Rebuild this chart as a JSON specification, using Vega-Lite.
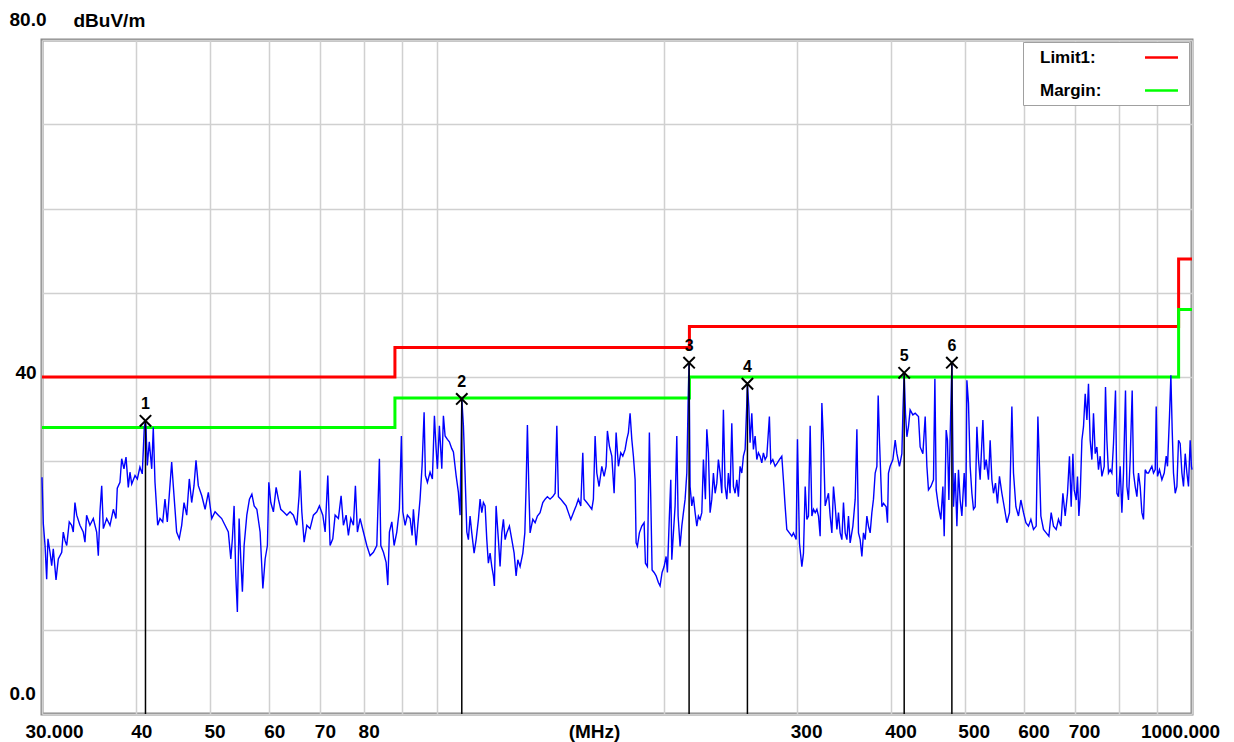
{
  "$schema": "https://vega.github.io/schema/vega-lite/v6.json",
  "width": 1150,
  "height": 674,
  "autosize": {"type": "none"},
  "padding": {"left": 42, "top": 40, "right": 42, "bottom": 28},
  "background": "white",
  "config": {"view": {"stroke": "#8a8a8a", "strokeWidth": 3}, "font": "Liberation Sans"},
  "datasets": {
    "limits": [
      {"series": "Limit1:", "f": 30, "v": 40}, {"series": "Limit1:", "f": 88, "v": 43.5}, {"series": "Limit1:", "f": 216, "v": 46}, {"series": "Limit1:", "f": 960, "v": 54}, {"series": "Limit1:", "f": 1000, "v": 54},
      {"series": "Margin:", "f": 30, "v": 34}, {"series": "Margin:", "f": 88, "v": 37.5}, {"series": "Margin:", "f": 216, "v": 40}, {"series": "Margin:", "f": 960, "v": 48}, {"series": "Margin:", "f": 1000, "v": 48}
    ],
    "markers": [
      {"id": "1", "f": 41.13, "v": 34.8}, {"id": "2", "f": 107.9, "v": 37.4}, {"id": "3", "f": 215.79, "v": 41.7},
      {"id": "4", "f": 257.79, "v": 39.2}, {"id": "5", "f": 415.78, "v": 40.5}, {"id": "6", "f": 480.86, "v": 41.7}
    ],
    "trace": [
{"f":30,"v":28.1},{"f":30.12,"v":22.6},{"f":30.28,"v":20},{"f":30.43,"v":16},{"f":30.55,"v":20.8},{"f":30.74,"v":19.2},{"f":30.9,"v":17.6},{"f":31.05,"v":19.6},{"f":31.31,"v":15.9},{"f":31.53,"v":18.4},{"f":31.86,"v":19.2},{"f":32.01,"v":21.6},{"f":32.18,"v":20.6},{"f":32.35,"v":20},{"f":32.6,"v":22.8},{"f":32.84,"v":22.4},{"f":33,"v":21.6},{"f":33.17,"v":25.1},{"f":33.35,"v":23.6},{"f":33.68,"v":22.4},{"f":34.02,"v":21.6},{"f":34.2,"v":20.4},{"f":34.37,"v":23.6},{"f":34.72,"v":22.4},{"f":35.08,"v":23.2},{"f":35.44,"v":21.6},{"f":35.62,"v":18.8},{"f":35.8,"v":24},{"f":35.99,"v":27.1},{"f":36.17,"v":22},{"f":36.54,"v":23.2},{"f":36.91,"v":22.4},{"f":37.29,"v":24.3},{"f":37.59,"v":23.2},{"f":37.74,"v":26.8},{"f":38.05,"v":27.5},{"f":38.25,"v":30.3},{"f":38.52,"v":29.1},{"f":38.76,"v":30.5},{"f":39.03,"v":26.9},{"f":39.23,"v":28.7},{"f":39.44,"v":27.3},{"f":39.84,"v":28.3},{"f":40.12,"v":27.9},{"f":40.44,"v":29.3},{"f":40.73,"v":28.5},{"f":40.98,"v":34},{"f":41.13,"v":34.8},{"f":41.2,"v":33.8},{"f":41.36,"v":29.5},{"f":41.61,"v":32.3},{"f":41.92,"v":29.1},{"f":42.12,"v":34},{"f":42.34,"v":27.5},{"f":42.69,"v":22.4},{"f":42.99,"v":23.2},{"f":43.35,"v":22.8},{"f":43.65,"v":25.5},{"f":43.96,"v":22.8},{"f":44.55,"v":29.9},{"f":44.77,"v":27.1},{"f":45.23,"v":21.6},{"f":45.59,"v":20.8},{"f":45.93,"v":22.4},{"f":46.26,"v":25.1},{"f":46.64,"v":23.6},{"f":47.01,"v":27.9},{"f":47.35,"v":25.1},{"f":47.69,"v":27.1},{"f":47.98,"v":30.1},{"f":48.32,"v":27.1},{"f":48.83,"v":25.9},{"f":49.33,"v":24.3},{"f":49.82,"v":26.3},{"f":50.34,"v":23.2},{"f":50.85,"v":24},{"f":51.36,"v":23.6},{"f":51.89,"v":23.2},{"f":52.42,"v":22.4},{"f":52.95,"v":21.6},{"f":53.35,"v":18.4},{"f":53.61,"v":20.8},{"f":53.89,"v":24.7},{"f":54.17,"v":16.4},{"f":54.43,"v":12.1},{"f":54.72,"v":23.2},{"f":55,"v":18.4},{"f":55.27,"v":14.5},{"f":55.56,"v":20},{"f":56.02,"v":23.6},{"f":56.47,"v":25.5},{"f":56.89,"v":26.1},{"f":57.29,"v":24.7},{"f":57.76,"v":24.3},{"f":58.34,"v":21.6},{"f":58.83,"v":14.9},{"f":59.24,"v":18.4},{"f":59.65,"v":20},{"f":59.91,"v":27.5},{"f":60.27,"v":25.1},{"f":60.75,"v":24},{"f":61.26,"v":26.9},{"f":61.68,"v":25.5},{"f":62.13,"v":24.3},{"f":62.63,"v":24},{"f":63.29,"v":23.6},{"f":63.92,"v":24},{"f":64.57,"v":23.6},{"f":65.25,"v":22.4},{"f":65.7,"v":25.9},{"f":65.9,"v":28.9},{"f":66.25,"v":24},{"f":66.72,"v":20.4},{"f":67.27,"v":22.4},{"f":67.94,"v":22},{"f":68.63,"v":23.6},{"f":69.35,"v":24},{"f":69.9,"v":24.7},{"f":70.63,"v":23.6},{"f":71.13,"v":21.6},{"f":71.71,"v":28.3},{"f":72.21,"v":20},{"f":72.81,"v":20.8},{"f":73.33,"v":23.6},{"f":74.07,"v":23.2},{"f":74.68,"v":25.9},{"f":75.21,"v":22.4},{"f":75.83,"v":23.6},{"f":76.36,"v":21.2},{"f":76.92,"v":23.2},{"f":77.54,"v":22.4},{"f":78.01,"v":27.1},{"f":78.49,"v":21.6},{"f":79.13,"v":23.2},{"f":79.94,"v":21.6},{"f":80.77,"v":20},{"f":81.58,"v":18.8},{"f":82.41,"v":19.2},{"f":83.27,"v":20},{"f":83.93,"v":30.3},{"f":84.29,"v":20},{"f":84.97,"v":19.2},{"f":85.67,"v":18},{"f":86.11,"v":15.3},{"f":86.53,"v":21.6},{"f":87.17,"v":22.8},{"f":87.78,"v":20},{"f":88.5,"v":21.6},{"f":89.2,"v":24.3},{"f":89.75,"v":33},{"f":90.14,"v":24},{"f":90.78,"v":22.4},{"f":91.41,"v":23.6},{"f":92.16,"v":23.2},{"f":92.73,"v":21.2},{"f":93.1,"v":24.3},{"f":93.87,"v":20},{"f":94.35,"v":22.4},{"f":95.01,"v":25.5},{"f":95.6,"v":29.5},{"f":96.19,"v":35.8},{"f":96.57,"v":28.3},{"f":97.16,"v":27.5},{"f":97.95,"v":28.7},{"f":98.65,"v":27.9},{"f":99.26,"v":35.4},{"f":99.77,"v":31.5},{"f":100.17,"v":29.1},{"f":100.78,"v":34.2},{"f":101.52,"v":29.1},{"f":102.02,"v":35.4},{"f":102.55,"v":33},{"f":103.27,"v":32.6},{"f":103.89,"v":32.3},{"f":104.66,"v":31.5},{"f":105.18,"v":31.1},{"f":106.05,"v":28.3},{"f":106.79,"v":26.3},{"f":107.34,"v":23.6},{"f":107.9,"v":37.4},{"f":108.44,"v":34.2},{"f":109,"v":28.3},{"f":109.57,"v":21.6},{"f":110.1,"v":20.7},{"f":110.66,"v":23.5},{"f":111.24,"v":21.5},{"f":112.03,"v":19.1},{"f":112.72,"v":20.7},{"f":113.51,"v":23.1},{"f":114.09,"v":25.5},{"f":114.69,"v":23.9},{"f":115.25,"v":25.1},{"f":115.85,"v":24.7},{"f":116.45,"v":20.7},{"f":117.01,"v":17.9},{"f":117.62,"v":19.1},{"f":118.24,"v":17.5},{"f":118.82,"v":16.4},{"f":119.18,"v":15.2},{"f":119.8,"v":24.7},{"f":120.64,"v":20.7},{"f":121.26,"v":17.5},{"f":121.9,"v":21.5},{"f":122.5,"v":23.1},{"f":123.14,"v":20.7},{"f":123.78,"v":21.5},{"f":124.76,"v":22.3},{"f":125.68,"v":20.7},{"f":126.57,"v":19.1},{"f":127.34,"v":16.4},{"f":128,"v":18.3},{"f":128.89,"v":17.5},{"f":129.97,"v":19.1},{"f":130.77,"v":21.5},{"f":131.28,"v":27},{"f":131.8,"v":34.3},{"f":132.36,"v":27},{"f":132.88,"v":21.5},{"f":133.99,"v":23.1},{"f":134.93,"v":22.7},{"f":135.88,"v":23.5},{"f":136.99,"v":23.9},{"f":138.13,"v":25.1},{"f":139.11,"v":25.5},{"f":140.08,"v":25.8},{"f":141.23,"v":25.5},{"f":142.41,"v":25.8},{"f":143.42,"v":26.2},{"f":144.17,"v":34.2},{"f":144.87,"v":25.8},{"f":145.93,"v":25.5},{"f":147.1,"v":25.1},{"f":148.31,"v":24.7},{"f":149.35,"v":23.9},{"f":150.44,"v":23.1},{"f":151.64,"v":23.9},{"f":152.89,"v":24.7},{"f":153.96,"v":25.5},{"f":155.1,"v":24.7},{"f":156.05,"v":31},{"f":156.68,"v":25.5},{"f":157.97,"v":25.1},{"f":159.22,"v":24.7},{"f":160.39,"v":24.3},{"f":161.18,"v":25.5},{"f":162.02,"v":33},{"f":162.86,"v":28.6},{"f":164,"v":27},{"f":165.36,"v":29.4},{"f":166.53,"v":28.2},{"f":167.55,"v":29.4},{"f":168.21,"v":33.6},{"f":169.23,"v":31.8},{"f":170.48,"v":30.6},{"f":171.69,"v":26.2},{"f":172.74,"v":33.4},{"f":173.95,"v":29.4},{"f":175.21,"v":31},{"f":176.3,"v":30.6},{"f":177.54,"v":31.4},{"f":178.46,"v":32.6},{"f":179.33,"v":33.4},{"f":180.25,"v":35.7},{"f":181.2,"v":32.6},{"f":182.09,"v":30.6},{"f":183.04,"v":27.8},{"f":183.6,"v":20.3},{"f":184.32,"v":19.9},{"f":185.44,"v":21.5},{"f":186.81,"v":22.3},{"f":188.13,"v":22.7},{"f":188.88,"v":17.9},{"f":190.03,"v":17.5},{"f":191.18,"v":33.4},{"f":192,"v":25.5},{"f":192.77,"v":17.1},{"f":193.96,"v":16.8},{"f":195.14,"v":16.4},{"f":196.5,"v":15.6},{"f":197.51,"v":15.2},{"f":198.73,"v":16.8},{"f":199.96,"v":17.5},{"f":201.18,"v":18.7},{"f":201.98,"v":16.8},{"f":203.2,"v":23.5},{"f":204.07,"v":27.8},{"f":204.7,"v":18.3},{"f":205.71,"v":21.5},{"f":206.78,"v":24.7},{"f":207.85,"v":33},{"f":208.68,"v":23.5},{"f":209.94,"v":19.9},{"f":211.05,"v":22.3},{"f":212.09,"v":23.9},{"f":213.19,"v":25.5},{"f":214.3,"v":28.6},{"f":215.14,"v":36.9},{"f":215.79,"v":41.7},{"f":216.44,"v":27},{"f":217.58,"v":24.7},{"f":218.65,"v":25.8},{"f":219.79,"v":23.9},{"f":220.93,"v":22.3},{"f":222,"v":23.5},{"f":223.14,"v":23.1},{"f":224.32,"v":23.9},{"f":225.42,"v":30.2},{"f":226.8,"v":25.5},{"f":227.77,"v":33.8},{"f":228.88,"v":31},{"f":230.05,"v":23.9},{"f":231.26,"v":25.5},{"f":232.4,"v":28.6},{"f":233.61,"v":26.2},{"f":234.82,"v":27.4},{"f":235.96,"v":30.2},{"f":237.17,"v":28.6},{"f":238.42,"v":26.2},{"f":239.59,"v":36.1},{"f":240.84,"v":27},{"f":242.09,"v":25.5},{"f":243.26,"v":28.6},{"f":244.51,"v":26.2},{"f":245.8,"v":34.5},{"f":247.02,"v":27},{"f":248.3,"v":26.2},{"f":249.59,"v":27.8},{"f":250.8,"v":25.8},{"f":252.08,"v":29.4},{"f":253.41,"v":28.6},{"f":254.66,"v":30.6},{"f":255.99,"v":31.4},{"f":257.32,"v":36.9},{"f":257.79,"v":39.2},{"f":258.88,"v":36.5},{"f":259.89,"v":32.2},{"f":261.26,"v":35.7},{"f":262.54,"v":31.4},{"f":263.91,"v":33},{"f":265.28,"v":30.2},{"f":266.56,"v":31},{"f":267.93,"v":30.6},{"f":269.34,"v":29.8},{"f":270.67,"v":31},{"f":272.08,"v":30.2},{"f":273.49,"v":30.6},{"f":275.65,"v":35.3},{"f":276.83,"v":29.8},{"f":278.54,"v":30.2},{"f":280.5,"v":29.4},{"f":282.47,"v":29.8},{"f":284.18,"v":30.2},{"f":286.28,"v":30.6},{"f":287.69,"v":27.8},{"f":289.19,"v":24.7},{"f":290.69,"v":21.9},{"f":292.98,"v":21.5},{"f":295.16,"v":21.1},{"f":296.63,"v":21.5},{"f":299.09,"v":20.7},{"f":300.28,"v":32.6},{"f":302.11,"v":20.3},{"f":304.34,"v":17.5},{"f":305.84,"v":19.1},{"f":307.44,"v":27},{"f":309.03,"v":23.1},{"f":310.53,"v":23.5},{"f":312.13,"v":34.2},{"f":313.77,"v":23.5},{"f":315.32,"v":24.3},{"f":316.97,"v":23.9},{"f":318.61,"v":24.3},{"f":320.16,"v":23.5},{"f":321.8,"v":21.1},{"f":323.49,"v":36.9},{"f":325.09,"v":32.2},{"f":326.78,"v":24.7},{"f":328.47,"v":25.5},{"f":330.07,"v":26.2},{"f":331.76,"v":23.5},{"f":333.51,"v":21.5},{"f":335.15,"v":27},{"f":336.9,"v":24.7},{"f":338.64,"v":21.9},{"f":340.29,"v":23.9},{"f":342.03,"v":21.5},{"f":343.83,"v":20.7},{"f":345.52,"v":25.1},{"f":347.33,"v":21.5},{"f":349.13,"v":20.7},{"f":350.83,"v":23.5},{"f":352.62,"v":20.3},{"f":355.57,"v":22.3},{"f":358.08,"v":25.5},{"f":359.94,"v":33.8},{"f":361.68,"v":21.5},{"f":363.54,"v":20.7},{"f":365.45,"v":18.7},{"f":367.25,"v":21.5},{"f":369.17,"v":20.7},{"f":371.08,"v":23.5},{"f":372.88,"v":22.3},{"f":374.79,"v":21.5},{"f":376.76,"v":23.9},{"f":378.62,"v":25.5},{"f":380.59,"v":28.6},{"f":382.57,"v":29.4},{"f":384.08,"v":37.8},{"f":385.59,"v":32.5},{"f":388.43,"v":24.6},{"f":390.34,"v":25},{"f":393.57,"v":24.6},{"f":395.13,"v":22.7},{"f":396.32,"v":28.6},{"f":398.36,"v":29.4},{"f":401.69,"v":30.2},{"f":404.53,"v":32.5},{"f":406.63,"v":30.9},{"f":409.84,"v":29.4},{"f":412.86,"v":30.9},{"f":414.13,"v":35.7},{"f":415.78,"v":40.5},{"f":417.43,"v":35.7},{"f":419.21,"v":32.9},{"f":421.25,"v":34.1},{"f":423.41,"v":36.1},{"f":426.95,"v":35.5},{"f":429.97,"v":35.7},{"f":434.3,"v":35.3},{"f":436.52,"v":31.7},{"f":440.17,"v":30.9},{"f":443.28,"v":35.3},{"f":445.58,"v":29.4},{"f":447.74,"v":26.6},{"f":451.01,"v":27},{"f":454.63,"v":27.8},{"f":456.58,"v":39.8},{"f":458.4,"v":26.6},{"f":461.6,"v":24.6},{"f":464.98,"v":23.1},{"f":467.85,"v":27},{"f":469.72,"v":21.1},{"f":472.59,"v":33.7},{"f":474.46,"v":32.5},{"f":476.47,"v":25.4},{"f":478.34,"v":32.9},{"f":480.86,"v":41.7},{"f":483.23,"v":24.6},{"f":485.75,"v":28.6},{"f":488.27,"v":22.3},{"f":490.64,"v":29},{"f":493.15,"v":25.4},{"f":495.75,"v":23.5},{"f":499.26,"v":28.6},{"f":501.86,"v":24.6},{"f":503.38,"v":39.6},{"f":505.83,"v":36.9},{"f":508.42,"v":29.4},{"f":511.1,"v":26.2},{"f":513.61,"v":24.3},{"f":516.29,"v":24.6},{"f":518.96,"v":34.1},{"f":521.48,"v":30.2},{"f":524.16,"v":27.8},{"f":528.54,"v":34.9},{"f":531.14,"v":29},{"f":533.9,"v":30.2},{"f":537.63,"v":27.8},{"f":540.39,"v":32.5},{"f":543.23,"v":27.8},{"f":545.91,"v":26.2},{"f":549.26,"v":27.4},{"f":552.61,"v":25},{"f":555.96,"v":28.2},{"f":560.06,"v":26.2},{"f":564.03,"v":24.6},{"f":568.69,"v":22.7},{"f":573.17,"v":23.9},{"f":577.4,"v":36.5},{"f":580.25,"v":28.6},{"f":584.51,"v":24.6},{"f":589.14,"v":23.5},{"f":593.44,"v":25.4},{"f":598.21,"v":23.9},{"f":602.61,"v":22.7},{"f":607.38,"v":22.3},{"f":611.82,"v":23.1},{"f":616.73,"v":21.9},{"f":621.83,"v":22.3},{"f":625.05,"v":35.3},{"f":628.08,"v":29.4},{"f":630.76,"v":23.5},{"f":635.83,"v":21.9},{"f":641.09,"v":21.5},{"f":646.36,"v":21.1},{"f":650.9,"v":23.9},{"f":655.52,"v":22.3},{"f":660.95,"v":21.9},{"f":665.57,"v":23.1},{"f":670.43,"v":22.3},{"f":674.57,"v":26.2},{"f":679.34,"v":23.5},{"f":684.11,"v":26.2},{"f":688.25,"v":30.6},{"f":691.84,"v":24.6},{"f":695.47,"v":30.9},{"f":698.24,"v":26.6},{"f":702.51,"v":25.4},{"f":705.29,"v":28.2},{"f":708.28,"v":23.5},{"f":711.05,"v":25.8},{"f":714.79,"v":32.5},{"f":718.32,"v":34.1},{"f":722.06,"v":38},{"f":725.8,"v":34.9},{"f":729.33,"v":39.2},{"f":733.07,"v":32.5},{"f":736.93,"v":30.2},{"f":740.56,"v":35.7},{"f":744.42,"v":30.9},{"f":748.28,"v":31.7},{"f":751.91,"v":29},{"f":755.77,"v":30.6},{"f":759.75,"v":28.2},{"f":765.13,"v":29.4},{"f":768.17,"v":38.8},{"f":771.45,"v":32.5},{"f":775.19,"v":28.6},{"f":779.17,"v":29},{"f":783.27,"v":28.6},{"f":787.13,"v":32.1},{"f":791.95,"v":38.4},{"f":795.33,"v":26.2},{"f":799.19,"v":25.8},{"f":803.29,"v":29.4},{"f":807.52,"v":23.9},{"f":811.5,"v":28.6},{"f":816.47,"v":38.4},{"f":819.96,"v":27},{"f":823.94,"v":25.4},{"f":828.17,"v":30.2},{"f":833.3,"v":38.4},{"f":836.63,"v":28.6},{"f":840.99,"v":27},{"f":845.35,"v":25.8},{"f":849.45,"v":28.6},{"f":853.81,"v":27},{"f":858.3,"v":23.9},{"f":862.54,"v":23.1},{"f":867.03,"v":29},{"f":871.53,"v":28.6},{"f":875.76,"v":28.6},{"f":880.25,"v":29},{"f":884.88,"v":29.4},{"f":889.24,"v":28.6},{"f":893.87,"v":29},{"f":896.6,"v":36.5},{"f":900.14,"v":28.2},{"f":905.59,"v":29},{"f":912.28,"v":27.8},{"f":918.74,"v":28.6},{"f":924.36,"v":30.6},{"f":928.01,"v":29.4},{"f":933.63,"v":35.3},{"f":937.62,"v":40.2},{"f":941.39,"v":33.7},{"f":945.15,"v":28.6},{"f":950.08,"v":26.2},{"f":955.01,"v":27},{"f":959.71,"v":32.5},{"f":964.57,"v":32.1},{"f":969.65,"v":28.6},{"f":974.43,"v":27},{"f":979.5,"v":30.9},{"f":984.58,"v":28.6},{"f":989.36,"v":27},{"f":994.43,"v":32.5},{"f":998.32,"v":29.4},{"f":1000,"v":29}
    ]
  },
  "encoding": {
    "x": {
      "field": "f", "type": "quantitative",
      "scale": {"type": "log", "domain": [30, 1000], "nice": false},
      "axis": {
        "values": [30, 40, 50, 60, 70, 80, 90, 100, 200, 300, 400, 500, 600, 700, 800, 900, 1000],
        "labelExpr": "datum.value == 30 ? '30.000' : datum.value == 1000 ? '1000.000' : (datum.value == 90 || datum.value == 100 || datum.value == 200 || datum.value == 800 || datum.value == 900) ? '' : '' + datum.value",
        "grid": true, "gridColor": "#d0d0d0", "gridWidth": 1.5,
        "domain": false, "ticks": false, "tickSize": 0,
        "labelFont": "Liberation Sans", "labelFontSize": 19, "labelFontWeight": "bold", "labelColor": "black",
        "labelBaseline": "middle", "labelAlign": "center", "labelPadding": 17,
        "labelFlush": false, "labelOverlap": false, "labelBound": false,
        "labelOffset": {"condition": [{"test": "datum.value == 30", "value": 12}, {"test": "datum.value == 1000", "value": -12}, {"test": "datum.value >= 300", "value": 9}], "value": 5},
        "title": "(MHz)", "titleFont": "Liberation Sans", "titleFontSize": 19, "titleFontWeight": "bold", "titleColor": "black",
        "titleX": 552, "titleY": 17, "titleBaseline": "middle", "titleAlign": "center"
      }
    },
    "y": {
      "field": "v", "type": "quantitative",
      "scale": {"domain": [0, 80], "nice": false, "zero": false},
      "axis": {
        "values": [0, 10, 20, 30, 40, 50, 60, 70, 80],
        "labelExpr": "datum.value == 0 ? '0.0' : datum.value == 40 ? '40' : datum.value == 80 ? '80.0' : ''",
        "grid": true, "gridColor": "#d0d0d0", "gridWidth": 1.5,
        "domain": false, "ticks": false, "tickSize": 0,
        "labelFont": "Liberation Sans", "labelFontSize": 19, "labelFontWeight": "bold", "labelColor": "black",
        "labelAlign": "left", "labelBaseline": "middle",
        "labelPadding": {"condition": {"test": "datum.value == 40", "value": 27}, "value": 33},
        "labelOffset": {"condition": {"test": "datum.value == 40", "value": -5}, "value": -21},
        "labelFlush": false, "labelOverlap": false, "labelBound": false,
        "title": "dBuV/m", "titleFont": "Liberation Sans", "titleFontSize": 19, "titleFontWeight": "bold", "titleColor": "black",
        "titleAngle": 0, "titleAlign": "left", "titleBaseline": "middle", "titleX": 31, "titleY": -20
      }
    }
  },
  "layer": [
    {
      "data": {"name": "limits"},
      "mark": {"type": "line", "interpolate": "step-after", "strokeWidth": 3},
      "encoding": {
        "color": {
          "field": "series", "type": "nominal",
          "scale": {"domain": ["Limit1:", "Margin:"], "range": ["#ff0000", "#00ff00"]},
          "legend": {
            "orient": "none", "legendX": 981, "legendY": 2, "title": null, "direction": "vertical",
            "fillColor": "white", "strokeColor": "#a0a0a0", "padding": 6,
            "symbolType": "M-2,0H2", "symbolSize": 272, "symbolStrokeWidth": 2.5,
            "symbolOffset": 123, "labelOffset": -131, "rowPadding": 15,
            "labelFont": "Liberation Sans", "labelFontSize": 17, "labelFontWeight": "bold", "labelColor": "black",
            "labelBaseline": "middle"
          }
        }
      }
    },
    {
      "data": {"name": "trace"},
      "mark": {"type": "line", "color": "#0000ff", "strokeWidth": 1.4}
    },
    {
      "data": {"name": "markers"},
      "mark": {"type": "rule", "color": "black", "strokeWidth": 1.5},
      "encoding": {"y2": {"datum": 0}}
    },
    {
      "data": {"name": "markers"},
      "mark": {"type": "point", "shape": "M-1,-1L1,1M1,-1L-1,1", "size": 130, "filled": false, "color": "black", "strokeWidth": 2, "opacity": 1}
    },
    {
      "data": {"name": "markers"},
      "mark": {"type": "text", "dy": -17, "font": "Liberation Sans", "fontSize": 16, "fontWeight": "bold", "color": "black"},
      "encoding": {"text": {"field": "id"}}
    }
  ]
}
